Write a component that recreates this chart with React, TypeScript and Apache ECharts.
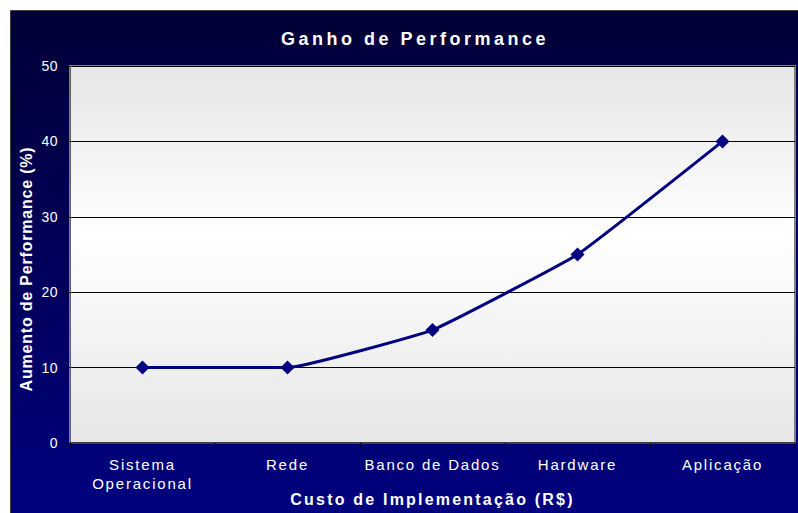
import React, { useEffect, useRef } from "react";
import * as echarts from "echarts";

const titleText = "Ganho de Performance";
const xAxisName = "Custo de Implementação (R$)";
const yAxisName = "Aumento de Performance (%)";
const categories = ["Sistema Operacional", "Rede", "Banco de Dados", "Hardware", "Aplicação"];
const performanceGain = [10, 10, 15, 25, 40];
const yMin = 0;
const yMax = 50;
const yInterval = 10;

const FONT = "'Liberation Sans', Arial, sans-serif";

export default function App() {
  const ref = useRef<HTMLDivElement>(null);

  useEffect(() => {
    if (!ref.current) return;
    const chart = echarts.init(ref.current, undefined, { renderer: "svg" });

    const applySpacing = () => {
      const root = ref.current;
      if (!root) return;
      root.querySelectorAll("text").forEach((el) => {
        const t = (el.textContent || "").trim();
        let s = 1.8;
        if (t === titleText) s = 3.5;
        else if (t === xAxisName) s = 2.2;
        else if (t === yAxisName) s = 0.8;
        else if (/^\d+$/.test(t)) s = 0.5;
        (el as SVGTextElement).style.letterSpacing = s + "px";
      });
    };

    chart.setOption({
      animation: false,
      backgroundColor: "#ffffff",
      title: {
        text: titleText,
        left: 410,
        top: 25,
        textAlign: "center",
        textStyle: { color: "#ffffff", fontSize: 18, fontWeight: "bold", fontFamily: FONT },
      },
      graphic: [
        {
          type: "rect",
          z: -10,
          shape: { x: 10.5, y: 10.5, width: 820, height: 540 },
          style: {
            fill: new echarts.graphic.LinearGradient(0, 0, 0, 1, [
              { offset: 0, color: "#000036" },
              { offset: 1, color: "#000084" },
            ]),
            stroke: "#404040",
            lineWidth: 1,
          },
          silent: true,
        },
        {
          type: "text",
          x: 26,
          y: 269,
          rotation: Math.PI / 2,
          style: {
            text: yAxisName,
            fill: "#ffffff",
            font: "bold 16px " + FONT,
            textAlign: "center",
            textVerticalAlign: "middle",
          },
          silent: true,
        },
      ],
      grid: {
        left: 70,
        top: 66,
        right: 3,
        bottom: 70,
        outerBoundsMode: "none",
        containLabel: false,
        show: true,
        backgroundColor: new echarts.graphic.LinearGradient(0, 0, 0, 1, [
          { offset: 0, color: "#e6e6e6" },
          { offset: 0.45, color: "#ffffff" },
          { offset: 1, color: "#e6e6e6" },
        ]),
        borderColor: "#808080",
        borderWidth: 2,
      },
      xAxis: {
        type: "category",
        data: categories,
        boundaryGap: true,
        name: xAxisName,
        nameLocation: "middle",
        nameGap: 48,
        nameMoveOverlap: false,
        nameTextStyle: { color: "#ffffff", fontSize: 16, fontWeight: "bold", fontFamily: FONT },
        axisLine: { show: true, lineStyle: { color: "#404040", width: 2 } },
        axisTick: { show: true, length: 5, lineStyle: { color: "#000000" } },
        axisLabel: {
          color: "#ffffff",
          fontSize: 15,
          fontFamily: FONT,
          margin: 12,
          lineHeight: 19,
          interval: 0,
          formatter: (v: string) => (v === "Sistema Operacional" ? "Sistema\nOperacional" : v),
        },
        splitLine: { show: false },
      },
      yAxis: {
        type: "value",
        min: yMin,
        max: yMax,
        interval: yInterval,
        axisLine: { show: true, lineStyle: { color: "#606060", width: 1 } },
        axisTick: { show: true, length: 4, lineStyle: { color: "#000000" } },
        axisLabel: { color: "#ffffff", fontSize: 14, fontFamily: FONT, margin: 12 },
        splitLine: { show: true, lineStyle: { color: "#000000", width: 1 } },
      },
      series: [
        {
          type: "line",
          data: performanceGain,
          smooth: 0.1,
          symbol: "diamond",
          symbolSize: 14,
          lineStyle: { color: "#000080", width: 3 },
          itemStyle: { color: "#000080" },
        },
      ],
    });

    applySpacing();
    chart.on("finished", applySpacing);
    const t = setTimeout(applySpacing, 50);

    return () => {
      clearTimeout(t);
      chart.dispose();
    };
  }, []);

  return (
    <div style={{ position: "fixed", left: 0, top: 0, width: 798, height: 513, background: "#fff" }}>
      <div ref={ref} style={{ width: 798, height: 513 }} />
    </div>
  );
}
